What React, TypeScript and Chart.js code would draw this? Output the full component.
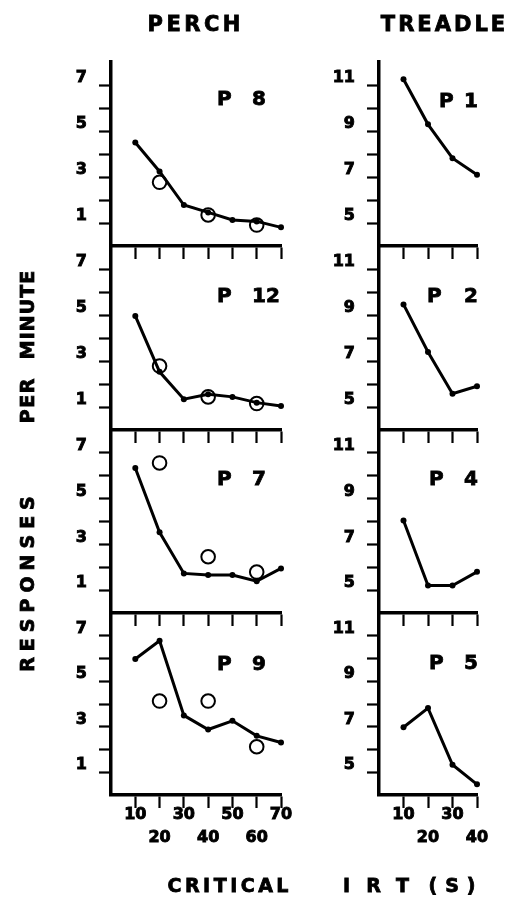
import React, { useEffect, useRef } from "react";
import { Chart, registerables } from "chart.js";

Chart.register(...registerables);

// ---------- data ----------
const perchX = [10, 20, 30, 40, 50, 60, 70];
const perchCircleX = [20, 40, 60];
const treadleX = [10, 20, 30, 40];

const p8Line = [4.5, 3.24, 1.78, 1.46, 1.13, 1.07, 0.81];
const p8Circles = [2.77, 1.35, 0.91];
const p12Line = [4.96, 2.53, 1.34, 1.55, 1.44, 1.19, 1.04];
const p12Circles = [2.78, 1.44, 1.15];
const p7Line = [6.34, 3.53, 1.73, 1.66, 1.66, 1.39, 1.95];
const p7Circles = [6.56, 2.46, 1.79];
const p9Line = [5.98, 6.78, 3.5, 2.88, 3.26, 2.6, 2.31];
const p9Circles = [4.13, 4.13, 2.12];

const p1Line = [11.25, 9.29, 7.82, 7.1];
const p2Line = [9.46, 7.39, 5.58, 5.9];
const p4Line = [8.04, 5.2, 5.2, 5.8];
const p5Line = [6.98, 7.82, 5.33, 4.47];

const perchXTicks = [10, 20, 30, 40, 50, 60, 70];
const perchXFirstLine = [10, 30, 50, 70];
const perchYTicks = [1, 2, 3, 4, 5, 6, 7];
const perchYLabels = [1, 3, 5, 7];

const treadleXTicks = [10, 20, 30, 40];
const treadleXFirstLine = [10, 30];
const treadleYTicks = [5, 6, 7, 8, 9, 10, 11];
const treadleYLabels = [5, 7, 9, 11];

const columnTitles = ["PERCH", "TREADLE"];
const perchNames = ["P 8", "P 12", "P 7", "P 9"];
const treadleNames = ["P 1", "P 2", "P 4", "P 5"];

// ---------- layout ----------
const FONT = '"DejaVu Sans", "Liberation Sans", Arial, sans-serif';
const ROW_TOPS = [62, 246, 430, 613];
const ROW_BOTTOMS = [246, 430, 613, 795];

const COLS = [
  {
    canvasLeft: 0, canvasWidth: 300, areaLeft: 111, areaRight: 281,
    xMax: 70, yMin: 0, yMax: 8,
    xTicks: perchXTicks, xFirst: perchXFirstLine, yTicks: perchYTicks, yLabels: perchYLabels,
  },
  {
    canvasLeft: 300, canvasWidth: 216, areaLeft: 379, areaRight: 477,
    xMax: 40, yMin: 4, yMax: 12,
    xTicks: treadleXTicks, xFirst: treadleXFirstLine, yTicks: treadleYTicks, yLabels: treadleYLabels,
  },
];

type PanelSpec = {
  col: number;
  row: number;
  xs: number[];
  line: number[];
  cx?: number[];
  circles?: number[];
};

const PANELS: PanelSpec[] = [
  { col: 0, row: 0, xs: perchX, line: p8Line, cx: perchCircleX, circles: p8Circles },
  { col: 0, row: 1, xs: perchX, line: p12Line, cx: perchCircleX, circles: p12Circles },
  { col: 0, row: 2, xs: perchX, line: p7Line, cx: perchCircleX, circles: p7Circles },
  { col: 0, row: 3, xs: perchX, line: p9Line, cx: perchCircleX, circles: p9Circles },
  { col: 1, row: 0, xs: treadleX, line: p1Line },
  { col: 1, row: 1, xs: treadleX, line: p2Line },
  { col: 1, row: 2, xs: treadleX, line: p4Line },
  { col: 1, row: 3, xs: treadleX, line: p5Line },
];

function Panel({ spec }: { spec: PanelSpec }) {
  const ref = useRef<HTMLCanvasElement>(null);
  const col = COLS[spec.col];
  const isLast = spec.row === 3;
  const top = ROW_TOPS[spec.row] - 30;
  const areaBottom = ROW_BOTTOMS[spec.row];
  const height = (isLast ? 875 : areaBottom + 30) - top;

  useEffect(() => {
    if (!ref.current) return;
    const padTop = ROW_TOPS[spec.row] - top;
    const yAxisW = col.areaLeft - col.canvasLeft;
    const xAxisH = top + height - areaBottom;
    const padRight = col.canvasLeft + col.canvasWidth - col.areaRight;

    const datasets: any[] = [
      {
        data: spec.xs.map((x, i) => ({ x, y: spec.line[i] })),
        borderColor: "#000",
        borderWidth: 3,
        pointRadius: 3,
        pointBackgroundColor: "#000",
        pointBorderWidth: 0,
        pointHoverRadius: 3,
        tension: 0,
        clip: false,
        order: 1,
      },
    ];
    if (spec.circles && spec.cx) {
      datasets.push({
        data: spec.cx.map((x, i) => ({ x, y: spec.circles![i] })),
        showLine: false,
        pointRadius: 6.8,
        pointHoverRadius: 6.8,
        pointBorderColor: "#000",
        pointBorderWidth: 2,
        pointBackgroundColor: "rgba(0,0,0,0)",
        borderColor: "#000",
        clip: false,
        order: 0,
      });
    }

    const tickFont = { family: FONT, size: 16, weight: "bold" as const, lineHeight: 1.4 };
    const chart = new Chart(ref.current, {
      type: "line",
      data: { datasets },
      options: {
        animation: false,
        responsive: false,
        maintainAspectRatio: false,
        events: [],
        layout: { padding: { top: padTop, right: padRight, left: 0, bottom: 0 } },
        plugins: { legend: { display: false }, tooltip: { enabled: false } },
        scales: {
          x: {
            type: "linear",
            min: 0,
            max: col.xMax,
            afterBuildTicks: (s: any) => {
              s.ticks = col.xTicks.map((v) => ({ value: v }));
            },
            afterFit: (s: any) => {
              s.height = xAxisH;
            },
            grid: {
              display: true,
              drawOnChartArea: false,
              drawTicks: true,
              tickLength: 13,
              tickWidth: 2.2,
              tickColor: "#000",
              color: "#000",
            },
            border: { display: true, color: "#000", width: 3.5 },
            ticks: {
              autoSkip: false,
              maxRotation: 0,
              minRotation: 0,
              padding: -4,
              color: "#000",
              textStrokeColor: "#000",
              textStrokeWidth: 0.9,
              font: tickFont,
              callback: (v: any) =>
                isLast ? (col.xFirst.includes(Number(v)) ? [String(v)] : ["", String(v)]) : "",
            },
          },
          y: {
            type: "linear",
            min: col.yMin,
            max: col.yMax,
            afterBuildTicks: (s: any) => {
              s.ticks = col.yTicks.map((v) => ({ value: v }));
            },
            afterFit: (s: any) => {
              s.width = yAxisW;
            },
            grid: {
              display: true,
              drawOnChartArea: false,
              drawTicks: true,
              tickLength: 12,
              tickWidth: 2.2,
              tickColor: "#000",
              color: "#000",
            },
            border: { display: true, color: "#000", width: 3.5 },
            ticks: {
              autoSkip: false,
              padding: 12,
              labelOffset: -7,
              color: "#000",
              textStrokeColor: "#000",
              textStrokeWidth: 0.9,
              font: tickFont,
              callback: (v: any) => (col.yLabels.includes(Number(v)) ? String(v) : ""),
            },
          },
        },
      },
    });
    return () => chart.destroy();
  }, []);

  return (
    <canvas
      ref={ref}
      width={col.canvasWidth}
      height={height}
      style={{ position: "absolute", left: col.canvasLeft, top, width: col.canvasWidth, height }}
    />
  );
}

function Txt(props: {
  x: number;
  y: number;
  size?: number;
  spacing?: number;
  rotate?: boolean;
  anchor?: "center" | "left" | "right";
  children: React.ReactNode;
}) {
  const { x, y, size = 20, spacing = 0, rotate = false, anchor = "center", children } = props;
  const tr =
    anchor === "center" ? "translate(-50%,-50%)" : anchor === "left" ? "translate(0,-50%)" : "translate(-100%,-50%)";
  return (
    <div
      style={{
        position: "absolute",
        left: x,
        top: y,
        fontFamily: FONT,
        fontWeight: "bold",
        fontSize: size,
        lineHeight: 1,
        letterSpacing: spacing,
        paddingLeft: anchor === "center" ? spacing : 0,
        whiteSpace: "pre",
        color: "#000",
        WebkitTextStroke: "0.8px #000",
        transform: tr + (rotate ? " rotate(-90deg)" : ""),
      }}
    >
      {children}
    </div>
  );
}

const perchNameY = [98, 295, 478, 663];
const treadleNameY = [100, 295, 478, 662];
const treadlePX = [440, 428, 430, 430];

export default function App() {
  return (
    <div style={{ position: "absolute", left: 0, top: 0, width: 516, height: 907, background: "#fff" }}>
      {PANELS.map((p, i) => (
        <Panel key={i} spec={p} />
      ))}
      <Txt x={194} y={24} size={21} spacing={3.5}>{columnTitles[0]}</Txt>
      <Txt x={443} y={24} size={21} spacing={3}>{columnTitles[1]}</Txt>

      {perchNames.map((n, i) => {
        const [p, num] = n.split(" ");
        return (
          <React.Fragment key={"pn" + i}>
            <Txt x={217} y={perchNameY[i]} size={20} anchor="left">{p}</Txt>
            <Txt x={252} y={perchNameY[i]} size={20} anchor="left">{num}</Txt>
          </React.Fragment>
        );
      })}
      {treadleNames.map((n, i) => {
        const [p, num] = n.split(" ");
        return (
          <React.Fragment key={"tn" + i}>
            <Txt x={treadlePX[i] - 1} y={treadleNameY[i]} size={20} anchor="left">{p}</Txt>
            <Txt x={478} y={treadleNameY[i]} size={20} anchor="right">{num}</Txt>
          </React.Fragment>
        );
      })}

      <Txt x={27} y={315} size={19} spacing={1} rotate>MINUTE</Txt>
      <Txt x={27} y={401} size={19} spacing={1.5} rotate>PER</Txt>
      <Txt x={27} y={584} size={19} spacing={6} rotate>RESPONSES</Txt>

      <Txt x={228} y={885} size={19} spacing={3.5}>CRITICAL</Txt>
      <Txt x={376} y={885} size={19} spacing={16}>IRT</Txt>
      <Txt x={452} y={885} size={19} spacing={8}>(S)</Txt>
    </div>
  );
}
